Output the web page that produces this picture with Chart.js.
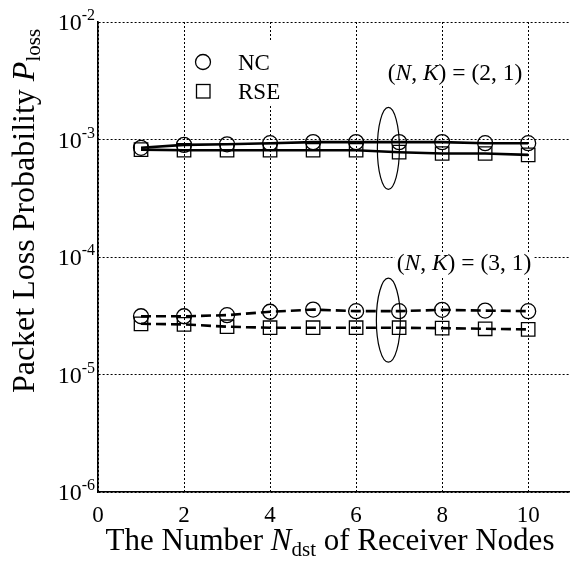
<!DOCTYPE html>
<html>
<head>
<meta charset="utf-8">
<script src="https://cdn.jsdelivr.net/npm/chart.js@4/dist/chart.umd.min.js"></script>
<style>
	html, body { margin: 0; background: #fff; overflow: hidden; }
	canvas { display: block; }
</style>
</head>
<body>
<canvas id="myChart" width="582" height="568"></canvas>
<script>
// receiver nodes
var nodes = [1, 2, 3, 4, 5, 6, 7, 8, 9, 10];
// (N, K) = (2, 1)
var nc21 = [8.5e-4, 9.0e-4, 9.1e-4, 9.3e-4, 9.5e-4, 9.5e-4, 9.5e-4, 9.5e-4, 9.3e-4, 9.3e-4];
var rse21 = [8.2e-4, 8.1e-4, 8.1e-4, 8.1e-4, 8.1e-4, 8.1e-4, 7.8e-4, 7.6e-4, 7.6e-4, 7.4e-4];
// (N, K) = (3, 1)
var nc31 = [3.13e-5, 3.13e-5, 3.2e-5, 3.42e-5, 3.57e-5, 3.46e-5, 3.46e-5, 3.55e-5, 3.5e-5, 3.46e-5];
var rse31 = [2.7e-5, 2.67e-5, 2.55e-5, 2.5e-5, 2.5e-5, 2.5e-5, 2.5e-5, 2.48e-5, 2.45e-5, 2.42e-5];
// ticks
var xTicks = [0, 2, 4, 6, 8, 10];
var yExp = [-2, -3, -4, -5, -6];

var SERIF = '"Liberation Serif", "DejaVu Serif", serif';

function pts(ys) {
	return nodes.map(function(x, i) { return { x: x, y: ys[i] }; });
}

function makeSet(label, ys, style, dashed) {
	return {
		label: label,
		data: pts(ys),
		borderColor: '#000',
		borderWidth: 2.6,
		borderDash: dashed ? [10, 5] : [],
		pointStyle: style,
		pointRadius: style === 'rect' ? 9.5 : 7.5,
		pointBorderWidth: 1.3,
		pointBorderColor: '#000',
		pointBackgroundColor: 'rgba(0,0,0,0)',
		tension: 0
	};
}

// draw a list of text runs, returns width
function runs(ctx, list, x, y, measureOnly) {
	var w = 0;
	list.forEach(function(r) {
		ctx.font = (r.italic ? 'italic ' : '') + r.size + 'px ' + SERIF;
		if (!measureOnly) ctx.fillText(r.t, x + w, y + (r.dy || 0));
		w += ctx.measureText(r.t).width;
	});
	return w;
}

var textPlugin = {
	id: 'texts',
	afterDraw: function(chart) {
		var ctx = chart.ctx;
		var xs = chart.scales.x;
		var ys = chart.scales.y;
		ctx.save();
		ctx.fillStyle = '#000';
		ctx.textBaseline = 'alphabetic';
		ctx.textAlign = 'left';

		// y tick labels
		yExp.forEach(function(e) {
			var py = ys.getPixelForValue(Math.pow(10, e));
			var list = [{ t: '10', size: 24 }, { t: String(e), size: 16, dy: -10 }];
			var w = runs(ctx, list, 0, 0, true);
			runs(ctx, list, 95 - w, py + 8);
		});
		// x tick labels
		xTicks.forEach(function(v) {
			var px = xs.getPixelForValue(v);
			var list = [{ t: String(v), size: 23 }];
			var w = runs(ctx, list, 0, 0, true);
			runs(ctx, list, px - w / 2, 522);
		});

		// x title
		var xt = [
			{ t: 'The Number ', size: 31 },
			{ t: 'N', size: 31, italic: true },
			{ t: 'dst', size: 21, dy: 6 },
			{ t: ' of Receiver Nodes', size: 31 }
		];
		var xw = runs(ctx, xt, 0, 0, true);
		runs(ctx, xt, 330 - xw / 2, 550);

		// y title
		var yt = [
			{ t: 'Packet Loss Probability ', size: 32 },
			{ t: 'P', size: 32, italic: true },
			{ t: 'loss', size: 21, dy: 6 }
		];
		var yw = runs(ctx, yt, 0, 0, true);
		ctx.save();
		ctx.translate(34, 211);
		ctx.rotate(-Math.PI / 2);
		runs(ctx, yt, -yw / 2, 0);
		ctx.restore();

		// legend
		ctx.fillStyle = '#fff';
		ctx.fillRect(186, 42, 100, 62);
		ctx.fillStyle = '#000';
		ctx.strokeStyle = '#000';
		ctx.lineWidth = 1.3;
		ctx.beginPath();
		ctx.arc(203, 62, 7.5, 0, Math.PI * 2);
		ctx.stroke();
		ctx.strokeRect(196.5, 84.5, 13.5, 13.5);
		runs(ctx, [{ t: 'NC', size: 23 }], 238, 70);
		runs(ctx, [{ t: 'RSE', size: 23 }], 238, 99);

		// group annotations
		function label(n, cx, baseY) {
			var list = [
				{ t: '(', size: 23.5 },
				{ t: 'N', size: 23.5, italic: true },
				{ t: ', ', size: 23.5 },
				{ t: 'K', size: 23.5, italic: true },
				{ t: ') = (' + n + ', 1)', size: 23.5 }
			];
			var w = runs(ctx, list, 0, 0, true);
			ctx.fillStyle = '#fff';
			ctx.fillRect(cx - w / 2 - 2, baseY - 18, w + 4, 24);
			ctx.fillStyle = '#000';
			runs(ctx, list, cx - w / 2, baseY);
		}
		label('2', 455, 80);
		label('3', 464, 270);

		ctx.lineWidth = 1.2;
		ctx.beginPath();
		ctx.ellipse(xs.getPixelForValue(6.75), ys.getPixelForValue(8.4e-4), 11, 41, 0, 0, Math.PI * 2);
		ctx.stroke();
		ctx.beginPath();
		ctx.ellipse(xs.getPixelForValue(6.75), ys.getPixelForValue(2.9e-5), 12, 42, 0, 0, Math.PI * 2);
		ctx.stroke();

		ctx.restore();
	}
};

var ctx = document.getElementById('myChart');
var myChart = new Chart(ctx, {
	type: 'line',
	data: {
		datasets: [
			makeSet('NC (2,1)', nc21, 'circle', false),
			makeSet('RSE (2,1)', rse21, 'rect', false),
			makeSet('NC (3,1)', nc31, 'circle', true),
			makeSet('RSE (3,1)', rse31, 'rect', true)
		]
	},
	options: {
		responsive: false,
		animation: false,
		layout: { padding: { left: 98, top: 22, right: 0, bottom: 76 } },
		plugins: {
			legend: { display: false },
			tooltip: { enabled: false }
		},
		scales: {
			x: {
				type: 'linear',
				min: 0,
				max: 11,
				afterBuildTicks: function(scale) {
					scale.ticks = xTicks.map(function(v) { return { value: v }; });
				},
				ticks: { display: false },
				grid: { color: '#000', lineWidth: 1, drawTicks: false },
				border: { display: true, color: '#000', width: 1.6, dash: [2, 2] }
			},
			y: {
				type: 'logarithmic',
				min: 1e-6,
				max: 1e-2,
				afterBuildTicks: function(scale) {
					scale.ticks = yExp.map(function(e) { return { value: Math.pow(10, e) }; });
				},
				ticks: { display: false },
				grid: { color: '#000', lineWidth: 1, drawTicks: false },
				border: { display: true, color: '#000', width: 1.6, dash: [2, 2] }
			}
		}
	},
	plugins: [textPlugin]
});
</script>
</body>
</html>
